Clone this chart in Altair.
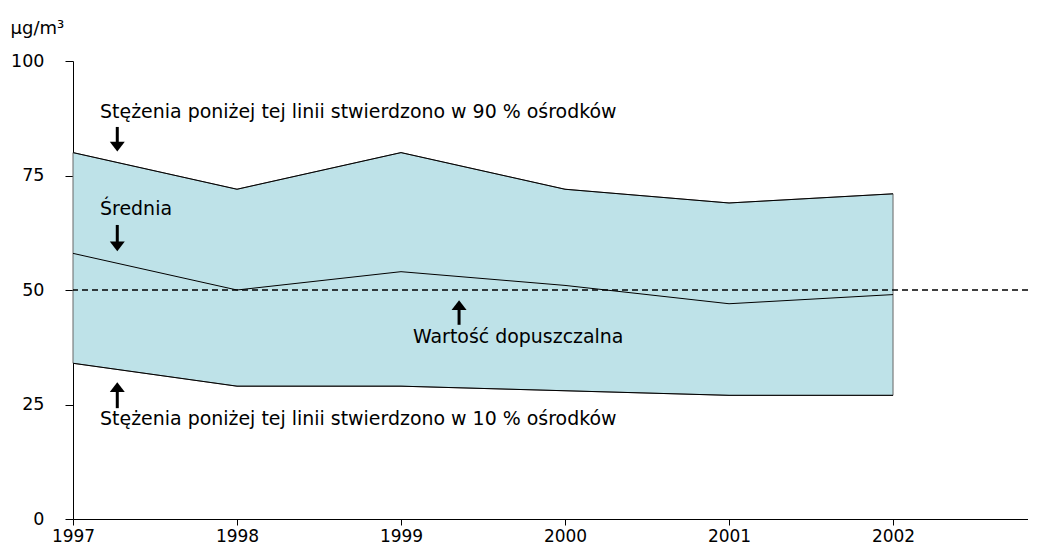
import altair as alt
import pandas as pd

years = [1997, 1998, 1999, 2000, 2001, 2002]
p90 = [80, 72, 80, 72, 69, 71]
mean = [58, 50, 54, 51, 47, 49]
p10 = [34, 29, 29, 28, 27, 27]
limit_value = 50
y_ticks = [0, 25, 50, 75, 100]

FONT = "Verdana, DejaVu Sans, sans-serif"

df = pd.DataFrame({"year": years, "p90": p90, "mean": mean, "p10": p10})
long = df.melt(id_vars="year", value_vars=["p90", "mean", "p10"], var_name="s", value_name="v")

x_scale = alt.Scale(domain=[1997, 2002.823], nice=False, zero=False)
y_scale = alt.Scale(domain=[0, 100], nice=False)

x_axis = alt.Axis(values=years, format="d", title=None, grid=False, domainColor="black",
                  tickColor="black", tickSize=6, labelFontSize=17, labelFont=FONT,
                  labelColor="black", labelPadding=3, labelFlush=False)
y_axis = alt.Axis(values=y_ticks, title="µg/m³", titleAngle=0, titleAlign="left",
                  titleBaseline="alphabetic", titleX=-63, titleY=-28, titleFont=FONT,
                  titleFontSize=18, titleFontWeight="normal", titleColor="black",
                  grid=False, domainColor="black", tickColor="black", tickSize=8,
                  labelFontSize=17.5, labelFont=FONT, labelColor="black", labelPadding=21)

band = alt.Chart(df).mark_area(color="#bee2e8", stroke="#666666", strokeWidth=1).encode(
    x=alt.X("year:Q", scale=x_scale, axis=x_axis),
    y=alt.Y("p10:Q", scale=y_scale, axis=y_axis),
    y2="p90:Q",
)

lines = alt.Chart(long).mark_line(color="black", strokeWidth=1).encode(
    x=alt.X("year:Q", scale=x_scale),
    y=alt.Y("v:Q", scale=y_scale),
    detail="s:N",
)

limit = alt.Chart(pd.DataFrame({"v": [limit_value]})).mark_rule(
    color="black", strokeWidth=1.5, strokeDash=[6, 4]).encode(y=alt.Y("v:Q", scale=y_scale))

# annotations (data coordinates)
labels = pd.DataFrame({
    "t": ["Stężenia poniżej tej linii stwierdzono w 90 % ośrodków", "Średnia",
          "Wartość dopuszczalna", "Stężenia poniżej tej linii stwierdzono w 10 % ośrodków"],
    "x": [1997.165, 1997.165, 1999.073, 1997.165],
    "y": [87.55, 66.4, 38.4, 20.5],
})
texts = alt.Chart(labels).mark_text(align="left", baseline="alphabetic", font=FONT,
                                    fontSize=18.95, color="black").encode(
    x=alt.X("x:Q", scale=x_scale), y=alt.Y("y:Q", scale=y_scale), text="t:N")

shafts = pd.DataFrame({
    "x": [1997.27, 1997.27, 1999.354, 1997.27],
    "y1": [85.6, 64.2, 45.9, 27.9],
    "y2": [82.1, 60.3, 42.4, 24.2],
})
shaft = alt.Chart(shafts).mark_rule(color="black", strokeWidth=3).encode(
    x=alt.X("x:Q", scale=x_scale), y=alt.Y("y1:Q", scale=y_scale), y2="y2:Q")

heads_down = pd.DataFrame({"x": [1997.27, 1997.27], "y": [81.3, 59.5]})
heads_up = pd.DataFrame({"x": [1999.354, 1997.27], "y": [46.7, 28.8]})
hd = alt.Chart(heads_down).mark_point(shape="M-1,-0.65L1,-0.65L0,0.65Z", filled=True,
                                      color="black", opacity=1, size=225).encode(
    x=alt.X("x:Q", scale=x_scale), y=alt.Y("y:Q", scale=y_scale))
hu = alt.Chart(heads_up).mark_point(shape="M-1,0.65L1,0.65L0,-0.65Z", filled=True,
                                    color="black", opacity=1, size=225).encode(
    x=alt.X("x:Q", scale=x_scale), y=alt.Y("y:Q", scale=y_scale))

chart = alt.layer(band, lines, limit, texts, shaft, hd, hu).properties(
    width=955, height=458,
    autosize=alt.AutoSizeParams(type="none"),
    padding={"left": 65, "top": 53, "right": 0, "bottom": 28},
).configure_view(stroke=None).configure_axis(domainWidth=1, tickWidth=1)

chart.save("out.html", embed_options={"renderer": "svg", "actions": False})
